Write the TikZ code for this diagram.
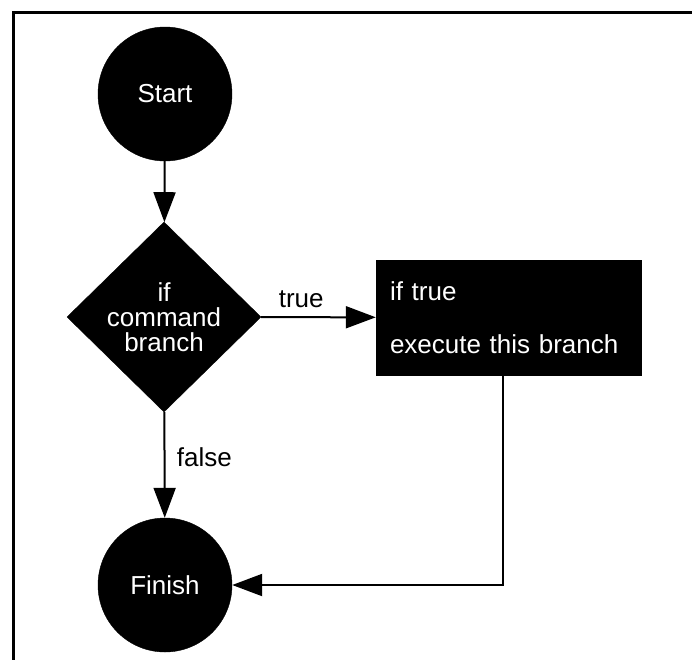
\documentclass[tikz,border=0pt]{standalone}
\usepackage{fontspec}
\setmainfont{Liberation Sans}
\usetikzlibrary{shapes.geometric,arrows.meta}
\tikzset{
  term/.style={circle, fill=black, draw=black, minimum size=134pt, inner sep=0pt, text=white, font=\fontsize{26}{26}\selectfont},
  decision/.style={diamond, fill=black, draw=black, minimum width=194pt, minimum height=190pt, inner sep=0pt, text=white, align=center, font=\fontsize{26}{25}\selectfont},
  procbox/.style={rectangle, fill=black, draw=black, minimum width=265pt, minimum height=115pt, text=white, align=left, text width=237pt, font=\fontsize{26}{53}\selectfont},
  arr/.style={line width=2pt, -{Triangle[length=30pt,width=22pt]}},
  conn/.style={line width=2pt},
  lbl/.style={text=black, font=\fontsize{26}{26}\selectfont},
  frame/.style={line width=3pt}
}
\begin{document}
\begin{tikzpicture}[x=1pt,y=-1pt]
\useasboundingbox (0,0) rectangle (692,659);
\draw[frame] (13.5,662) -- (13.5,12.5) -- (695,12.5);
\node[term] (start) at (165,94) {Start};
\node[decision] (dec) at (164,317) {if\\command\\branch};
\node[procbox] (box) at (508.5,317.5) {if true\\execute this branch};
\node[term] (finish) at (165,585) {Finish};
\draw[arr] (start) -- (dec);
\draw[arr] (dec) -- node[lbl, pos=0.35, above=5pt]{true} (box);
\draw[arr] (dec) -- node[lbl, pos=0.43, right=8pt]{false} (finish);
\draw[arr] ([xshift=-5.5pt]box.south) |- (finish.east);
\end{tikzpicture}
\end{document}
